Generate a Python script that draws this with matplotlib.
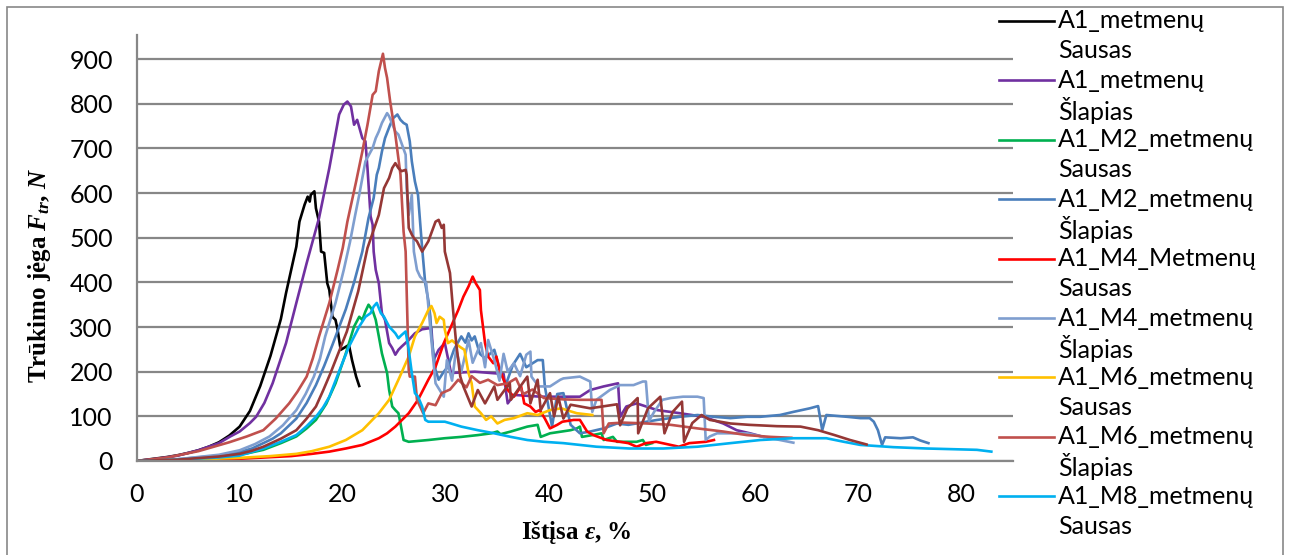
import matplotlib
matplotlib.use("Agg")
import matplotlib.pyplot as plt
from matplotlib.lines import Line2D
from matplotlib.patches import Rectangle

# ---------------- data ----------------
x_ticks = [0, 10, 20, 30, 40, 50, 60, 70, 80]
y_ticks = [0, 100, 200, 300, 400, 500, 600, 700, 800, 900]

# A1_metmenų Sausas (black)
bk_x = [0, 1, 2, 3, 4, 5, 6, 7, 8, 9, 10, 11, 12, 13, 14, 14.5, 15.5, 15.8, 16.3, 16.6, 16.8, 16.9,
        17.25, 17.4, 17.7, 17.9, 18.2, 18.5, 18.7, 19.0, 19.3, 19.5, 19.8, 20.1, 20.6, 20.9, 21.3, 21.6]
bk_y = [0, 3, 6, 9, 13, 18, 24, 32, 42, 57, 77, 112, 168, 236, 318, 376, 480, 536, 574, 592, 581, 596,
        604, 566, 536, 469, 466, 398, 383, 323, 316, 294, 249, 253, 260, 226, 189, 168]

# A1_metmenų Šlapias (purple)
pu_x = [0, 2, 4, 6, 8, 9.1, 10, 11, 11.6, 12.4, 13.2, 14.5, 15.5, 16.5, 17.7, 18.7, 19.65, 20.1, 20.45,
        20.8, 21.1, 21.4, 21.9, 22.2, 22.4, 22.7, 22.9, 23.0, 23.2, 23.5, 23.8, 24.1, 24.5, 24.8, 25.1,
        25.4, 25.7, 26.4, 27.0, 27.7, 28.3, 28.6, 28.8, 29.3, 29.9, 30.5, 32.8, 34.4, 35.6, 36.0, 36.6,
        37.9, 39.2, 41.4, 43.0, 44.0, 45.3, 46.7, 46.9, 47.5, 48.5, 50.5, 52.7, 55.0, 56.9, 58.2, 59.5,
        60.8]
pu_y = [0, 5, 12, 24, 40, 55, 66, 85, 99, 130, 174, 264, 354, 443, 544, 656, 776, 798, 805,
        794, 753, 764, 723, 716, 656, 548, 529, 469, 428, 398, 331, 316, 264, 253, 238,
        249, 256, 271, 286, 295, 297, 297, 226, 249, 264, 197, 200, 197, 195, 129, 148,
        146, 144, 144, 144, 159, 167, 174, 99, 122, 129, 114, 107, 99, 84, 69, 62,
        54]

# A1_M2_metmenų Sausas (green)
gr_x = [0, 4, 8, 10.7, 12.3, 14, 15.5, 16.5, 17.4, 18.4, 19.3, 20.3, 21.1, 21.6, 21.9, 22.2, 22.5,
        22.9, 23.2, 23.5, 23.8, 24.3, 24.5, 24.8, 25.1, 25.4, 25.6, 25.9, 26.4, 28.3, 29.9, 31.5, 33.1,
        34.4, 35.0, 35.3, 36.3, 37.9, 38.9, 39.2, 40.1, 42.1, 42.7, 43.0, 43.2, 44.2, 45.1, 45.3, 46.2,
        46.6, 48.5, 49.1, 49.4, 50.0]
gr_y = [0, 3, 9, 17, 25, 40, 55, 73, 92, 128, 174, 241, 301, 323, 316, 335, 350,
        337, 316, 279, 241, 197, 159, 122, 114, 107, 84, 47, 43, 47, 51, 54, 58,
        62, 66, 60, 66, 77, 81, 54, 62, 69, 73, 77, 54, 58, 62, 47, 54,
        43, 43, 47, 36, 40]

# A1_M2_metmenų Šlapias (blue)
db_x = [0, 4, 8, 10, 11.2, 12.3, 13.2, 14, 15.5, 16.5, 17.4, 18.2, 19.0, 20.3, 21.1, 21.9, 22.5, 23.0,
        23.3, 23.5, 23.8, 24.1, 24.6, 24.9, 25.3, 25.6, 25.9, 26.2, 26.5, 26.7, 27.0, 27.3, 27.5, 27.7,
        28.0, 28.3, 28.5, 28.6, 29.0, 29.3, 29.8, 30.2, 30.8, 31.5, 31.9, 32.2, 32.5, 32.8, 33.3, 33.8,
        34.7, 35.3, 35.8, 36.5, 37.2, 37.8, 38.9, 39.4, 39.6, 40.3, 40.8, 41.4, 42.1, 43.0, 44.0, 45.3,
        46.6, 47.7, 50.5, 52.7, 54.4, 56.0, 57.6, 59.2, 60.5, 62.4, 63.7, 65.3, 66.1, 66.5, 66.9, 68.9,
        70.2, 71.1, 71.5, 71.9, 72.3, 72.6, 74.1, 75.3, 76.0, 76.8]
db_y = [0, 4, 12, 20, 28, 40, 50, 62, 95, 130, 170, 213, 260, 340, 400, 469, 544, 589,
        641, 656, 693, 723, 753, 768, 776, 764, 757, 753, 716, 671, 626, 596, 536, 477,
        398, 360, 323, 279, 204, 182, 200, 211, 250, 279, 265, 286, 270, 279, 240, 230,
        249, 200, 170, 215, 240, 210, 226, 226, 167, 77, 150, 152, 81, 62, 66, 73,
        84, 81, 92, 99, 103, 99, 96, 99, 99, 103, 110, 118, 123, 69, 103, 99,
        96, 96, 88, 69, 36, 53, 51, 53, 46, 40]

# A1_M4_Metmenų Sausas (red)
rd_x = [0, 5, 10, 15, 17, 18.7, 20.3, 21.9, 23.5, 24.3, 25.1, 26.4, 27.3, 28.3, 29.0, 29.8, 30.5, 31.2,
        31.7, 32.2, 32.6, 32.9, 33.3, 33.4, 33.8, 34.1, 34.6, 34.9, 35.2, 35.5, 36.0, 36.6, 37.3, 37.6,
        38.2, 38.7, 39.1, 39.6, 40.1, 40.8, 41.3, 42.4, 43.0, 43.7, 44.3, 45.6, 46.9, 47.7, 48.5, 49.4,
        50.4, 52.6, 53.6, 55.2, 56.0]
rd_y = [0, 2, 5, 11, 16, 21, 28, 36, 51, 62, 77, 107, 137, 182, 211, 264, 301, 338,
        368, 391, 413, 398, 383, 338, 264, 234, 219, 234, 204, 189, 159, 144, 167, 129,
        122, 110, 114, 95, 73, 81, 88, 92, 92, 66, 58, 47, 43, 40, 32, 40,
        43, 32, 40, 43, 47]

# A1_M4_metmenų Šlapias (light blue)
lb_x = [0, 4, 8, 10, 11.5, 12.9, 14.2, 15.5, 16.4, 17.2, 17.8, 18.3, 19.3, 20.1, 20.7, 21.2, 21.6, 22.2,
        22.9, 23.2, 23.5, 23.8, 24.3, 24.5, 25.1, 25.4, 26.1, 26.2, 26.4, 26.7, 26.9, 27.2, 27.5, 28.1,
        28.6, 29.0, 29.8, 30.1, 30.6, 31.0, 31.5, 32.2, 32.6, 33.4, 33.8, 34.1, 34.7, 35.2, 35.6, 36.0,
        36.6, 37.2, 37.8, 38.2, 38.3, 39.0, 40.1, 41.1, 41.4, 43.0, 44.0, 44.2, 44.6, 45.9, 46.9, 48.2,
        49.1, 49.4, 49.7, 50.2, 51.0, 51.8, 53.0, 54.4, 55.0, 55.2, 55.6, 56.3, 59.2, 60.8, 62.4, 63.7]
lb_y = [0, 4, 14, 24, 38, 55, 80, 114, 150, 189, 230, 279, 354, 428, 490, 550, 596, 671,
        701, 723, 738, 757, 779, 772, 738, 731, 686, 611, 551, 596, 469, 428, 413, 398,
        271, 174, 144, 226, 180, 250, 200, 271, 220, 264, 210, 271, 226, 180, 240, 200,
        219, 190, 238, 245, 189, 167, 167, 182, 185, 189, 178, 110, 137, 159, 170, 170,
        178, 178, 90, 110, 137, 141, 144, 144, 141, 47, 55, 62, 62, 54, 47, 41]

# A1_M6_metmenų Sausas (gold)
go_x = [0, 5, 10, 13, 15.5, 17, 18.7, 20.3, 21.9, 23.5, 24.5, 25.4, 26.4, 27.0, 27.7, 28.3, 28.6, 28.9,
        29.1, 29.4, 29.8, 29.9, 30.2, 30.6, 30.9, 31.4, 31.8, 32.2, 32.5, 32.8, 33.4, 33.9, 34.4, 35.0,
        35.7, 36.6, 37.9, 38.9, 40.1, 41.2, 41.7, 42.7, 44.2]
go_y = [0, 3, 7, 11, 16, 22, 32, 47, 69, 107, 137, 182, 234, 279, 309, 338, 347, 331,
        309, 323, 316, 294, 264, 270, 264, 255, 249, 197, 174, 122, 107, 92, 100, 84,
        92, 96, 107, 103, 114, 118, 114, 107, 103]

# A1_M6_metmenų Šlapias (light red)
lr_x = [0, 3, 6, 9, 10.7, 12.3, 13.5, 14.8, 15.6, 16.5, 17.1, 17.7, 18.7, 19.5, 20.0, 20.45, 21.3, 21.9,
        22.4, 22.9, 23.2, 23.5, 23.9, 24.1, 24.3, 24.6, 25.1, 25.6, 25.9, 26.1, 26.4, 26.5, 27.0, 27.2,
        27.5, 27.8, 28.3, 29.0, 29.6, 30.4, 31.2, 32.0, 32.5, 33.3, 34.1, 35.0, 36.0, 36.8, 37.5, 38.4,
        39.5, 41.4, 43.0, 45.1, 45.3, 45.8, 47.2, 49.5, 51.8, 54.4, 56.9, 59.2, 61.5, 63.5]
lr_y = [0, 8, 22, 42, 55, 69, 95, 129, 155, 189, 230, 279, 354, 428, 477, 536, 626, 693,
        753, 820, 828, 873, 912, 880, 858, 805, 731, 641, 514, 469, 204, 189, 189, 137,
        122, 107, 129, 125, 152, 160, 182, 165, 190, 175, 182, 170, 174, 185, 150, 160,
        141, 138, 137, 137, 62, 84, 86, 84, 81, 73, 66, 58, 54, 52]

# A1_M8_metmenų Sausas (cyan)
cy_x = [0, 4, 8, 10, 12.3, 14, 15.5, 16.5, 17.4, 18.1, 18.7, 19.7, 20.6, 21.6, 22.2, 22.7, 23.0, 23.3,
        23.7, 24.0, 24.5, 25.1, 25.4, 25.7, 26.1, 26.4, 26.7, 27.0, 27.3, 27.7, 28.0, 28.3, 29.9, 30.5,
        31.5, 33.1, 34.7, 36.3, 37.9, 39.5, 41.4, 44.6, 47.8, 51.1, 54.4, 57.6, 60.5, 63.7, 66.9, 68.6,
        70.2, 73.4, 76.6, 79.9, 81.5, 82.9]
cy_y = [0, 3, 8, 12, 28, 43, 58, 78, 99, 120, 144, 204, 256, 301, 323, 331, 346, 354,
        331, 323, 301, 286, 275, 282, 290, 249, 197, 152, 144, 122, 92, 88, 88, 84,
        77, 69, 62, 54, 47, 43, 40, 32, 28, 28, 32, 40, 47, 51, 51, 43,
        36, 31, 28, 26, 25, 21]

# 10th series (dark brown, legend entry cut off in the original)
br_x = [0, 4, 8, 10, 11.2, 12.3, 14, 15.5, 16.5, 17.4, 18.1, 18.8, 19.6, 20.4, 21.5, 22.4, 23.5, 24.0,
        24.5, 24.8, 25.1, 25.4, 25.7, 26.1, 26.2, 26.4, 26.7, 26.9, 27.2, 27.7, 28.3, 29.0, 29.3, 29.6,
        29.8, 29.9, 30.4, 30.7, 31.0, 31.4, 31.7, 32.5, 33.1, 33.8, 34.7, 35.0, 35.7, 36.2, 36.3, 37.9,
        38.2, 38.9, 39.2, 40.1, 40.5, 40.9, 41.4, 42.1, 44.0, 46.6, 46.9, 47.6, 48.6, 48.65, 49.6, 50.8,
        51.2, 52.0, 52.9, 53.1, 53.9, 54.8, 55.6, 57.6, 59.4, 62.1, 64.4, 66.1, 67.7, 69.2, 70.8]
br_y = [0, 3, 10, 16, 23, 32, 50, 69, 95, 122, 158, 196, 243, 290, 380, 477, 551, 611,
        634, 656, 667, 656, 649, 652, 641, 522, 507, 499, 492, 469, 492, 536, 540, 522,
        529, 469, 421, 338, 264, 189, 167, 122, 159, 129, 167, 137, 159, 174, 137, 189,
        129, 182, 114, 152, 100, 144, 95, 126, 118, 127, 80, 118, 141, 62, 118, 144,
        62, 110, 133, 43, 85, 103, 92, 84, 81, 78, 77, 69, 58, 47, 37]

legend_labels = ["A1_metmenų\nSausas", "A1_metmenų\nŠlapias", "A1_M2_metmenų\nSausas",
                 "A1_M2_metmenų\nŠlapias", "A1_M4_Metmenų\nSausas", "A1_M4_metmenų\nŠlapias",
                 "A1_M6_metmenų\nSausas", "A1_M6_metmenų\nŠlapias", "A1_M8_metmenų\nSausas"]

series = [
    (bk_x, bk_y, "#000000"),
    (pu_x, pu_y, "#7030A0"),
    (gr_x, gr_y, "#00B050"),
    (db_x, db_y, "#4A7EBB"),
    (rd_x, rd_y, "#FF0000"),
    (lb_x, lb_y, "#7F9ECF"),
    (go_x, go_y, "#FFC000"),
    (lr_x, lr_y, "#C0504D"),
    (cy_x, cy_y, "#00B0F0"),
    (br_x, br_y, "#953735"),
]

# ---------------- styling ----------------
W, H = 1292, 555
plt.rcParams['font.family'] = ['Lato', 'DejaVu Sans']
plt.rcParams['mathtext.fontset'] = 'custom'
plt.rcParams['mathtext.rm'] = 'Liberation Serif:bold'
plt.rcParams['mathtext.it'] = 'Liberation Serif:italic:bold'
plt.rcParams['mathtext.bf'] = 'Liberation Serif:bold'

GRID = "#878787"
fig = plt.figure(figsize=(W / 100, H / 100), dpi=100)
left, right, bottom, top = 136.5, 1013, 461, 35
ax = fig.add_axes([left / W, 1 - bottom / H, (right - left) / W, (bottom - top) / H])

for xs, ys, c in series:
    ax.plot(xs, ys, color=c, lw=1.9, solid_joinstyle='round')

ax.set_xlim(0, 85)
ax.set_ylim(0, 954)
ax.set_xticks(x_ticks)
ax.set_yticks(y_ticks)
ax.yaxis.grid(True, color=GRID, lw=1.6)
ax.xaxis.grid(False)
ax.set_axisbelow(True)
for s in ("top", "right"):
    ax.spines[s].set_visible(False)
ax.spines["left"].set_color(GRID)
ax.spines["left"].set_linewidth(1.6)
ax.spines["bottom"].set_color(GRID)
ax.spines["bottom"].set_linewidth(1.6)
ax.tick_params(axis="both", length=0, labelsize=18, colors="black")
ax.tick_params(axis="x", pad=16)
ax.tick_params(axis="y", pad=17)

# axis titles
fig.text(40 / W, 1 - 275 / H, r"Trūkimo jėga $F_{tr}$, $N$", rotation=90,
         ha="center", va="center", fontsize=18, family="Liberation Serif", weight="bold")
fig.text(576 / W, 1 - 533 / H, r"Ištįsa $\varepsilon$, %", ha="center", va="center",
         fontsize=18, family="Liberation Serif", weight="bold")

# legend (manual, as in the original layout)
for i, lab in enumerate(legend_labels):
    ypx = 21 + 59.4 * i
    c = series[i][2]
    fig.add_artist(Line2D([999 / W, 1054 / W], [1 - ypx / H, 1 - ypx / H],
                          color=c, lw=1.9, transform=fig.transFigure))
    first, second = lab.split("\n")
    fig.text(1058 / W, 1 - ypx / H, first, ha="left", va="center", fontsize=18)
    fig.text(1058 / W, 1 - (ypx + 30) / H, second, ha="left", va="center", fontsize=18)

# outer chart border
fig.add_artist(Rectangle((7 / W, -0.05), (1283 - 7) / W, (H - 7) / H + 0.05,
                         transform=fig.transFigure, fill=False, edgecolor=GRID, lw=1.2))

fig.savefig("out.png", dpi=100)
